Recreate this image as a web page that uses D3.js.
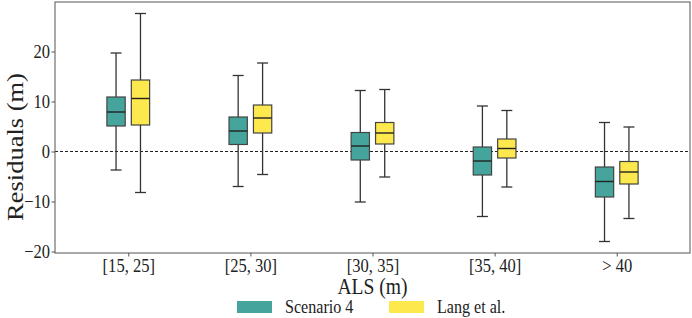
<!DOCTYPE html>
<html>
<head>
<meta charset="utf-8">
<script src="https://cdn.jsdelivr.net/npm/d3@7"></script>
<style>
  body { margin: 0; background: #fff; }
  text { font-family: "Liberation Serif", "Times New Roman", serif; fill: #222; }
</style>
</head>
<body>
<svg id="chart" width="692" height="318"></svg>
<script>
// categories along the x axis
var categories = ["[15, 25]", "[25, 30]", "[30, 35]", "[35, 40]", "> 40"];
var seriesNames = ["Scenario 4", "Lang et al."];
var seriesColors = ["#45a59c", "#fde94d"];

// box stats per category: [lower whisker, q1, median, q3, upper whisker]
var scenario4 = [
  [-3.7, 5.1, 7.9, 10.9, 19.7],
  [-7.0, 1.4, 4.1, 6.9, 15.2],
  [-10.1, -1.7, 1.1, 3.8, 12.2],
  [-13.0, -4.7, -1.9, 0.9, 9.1],
  [-18.0, -9.1, -6.0, -3.1, 5.8]
];
var langEtAl = [
  [-8.2, 5.3, 10.6, 14.3, 27.6],
  [-4.6, 3.7, 6.7, 9.3, 17.7],
  [-5.1, 1.5, 3.7, 5.8, 12.4],
  [-7.1, -1.3, 0.6, 2.5, 8.2],
  [-13.4, -6.5, -4.1, -2.0, 4.9]
];
var yTicks = [-20, -10, 0, 10, 20];

var svg = d3.select("#chart");
var plotLeft = 55, plotRight = 690, plotTop = 2, plotBottom = 253;
// the source figure's text is slightly squeezed horizontally
var squeeze = 0.87;

var x = d3.scaleLinear().domain([-0.6, categories.length - 0.4]).range([plotLeft, plotRight]);
var y = d3.scaleLinear().domain([-20.3, 29.9]).range([plotBottom, plotTop]);

// zero reference line
svg.append("line")
  .attr("x1", plotLeft).attr("x2", plotRight)
  .attr("y1", y(0)).attr("y2", y(0))
  .attr("stroke", "#222").attr("stroke-width", 1)
  .attr("stroke-dasharray", "3,2");

// draw the boxes for one series
function drawSeries(data, offset, color) {
  var boxW = x(0.15) - x(0);
  var capW = x(0.09) - x(0);
  var g = svg.append("g");
  data.forEach(function (d, i) {
    var cx = x(i + offset);
    // whiskers
    g.append("line").attr("x1", cx).attr("x2", cx).attr("y1", y(d[0])).attr("y2", y(d[1]))
      .attr("stroke", "#333").attr("stroke-width", 1.3);
    g.append("line").attr("x1", cx).attr("x2", cx).attr("y1", y(d[3])).attr("y2", y(d[4]))
      .attr("stroke", "#333").attr("stroke-width", 1.3);
    // caps
    [d[0], d[4]].forEach(function (v) {
      g.append("line").attr("x1", cx - capW / 2).attr("x2", cx + capW / 2)
        .attr("y1", y(v)).attr("y2", y(v))
        .attr("stroke", "#333").attr("stroke-width", 1.3);
    });
    // box
    g.append("rect")
      .attr("x", cx - boxW / 2).attr("width", boxW)
      .attr("y", y(d[3])).attr("height", y(d[1]) - y(d[3]))
      .attr("fill", color).attr("stroke", "#444").attr("stroke-width", 1.2);
    // median
    g.append("line").attr("x1", cx - boxW / 2).attr("x2", cx + boxW / 2)
      .attr("y1", y(d[2])).attr("y2", y(d[2]))
      .attr("stroke", "#222").attr("stroke-width", 1.4);
  });
}
drawSeries(scenario4, -0.1, seriesColors[0]);
drawSeries(langEtAl, 0.1, seriesColors[1]);

// frame
svg.append("rect")
  .attr("x", plotLeft).attr("y", plotTop)
  .attr("width", plotRight - plotLeft).attr("height", plotBottom - plotTop)
  .attr("fill", "none").attr("stroke", "#555").attr("stroke-width", 1);

// axes
var xAxis = svg.append("g").attr("transform", "translate(0," + plotBottom + ")")
  .call(d3.axisBottom(x).tickValues(d3.range(categories.length))
    .tickFormat(function (d) { return categories[d]; }).tickSize(3.5).tickPadding(2));
var yAxis = svg.append("g").attr("transform", "translate(" + plotLeft + ",0)")
  .call(d3.axisLeft(y).tickValues(yTicks)
    .tickFormat(function (d) { return d < 0 ? "\u2212" + Math.abs(d) : d; }).tickSize(3.5).tickPadding(2.2));
[xAxis, yAxis].forEach(function (a) {
  a.select(".domain").remove();
  a.selectAll(".tick line").attr("stroke", "#555");
  a.selectAll(".tick text").style("font-size", "19px")
    .style("font-family", "'Liberation Serif', serif").attr("fill", "#222")
    .attr("transform", "scale(" + squeeze + ",1)");
});

// axis titles
svg.append("text")
  .attr("transform", "translate(" + (plotLeft + plotRight) / 2 + ",293.5) scale(" + squeeze + ",1)")
  .attr("text-anchor", "middle").style("font-size", "22.5px").text("ALS (m)");
svg.append("text")
  .attr("transform", "translate(22.5,147) rotate(-90) scale(1," + squeeze + ")")
  .attr("text-anchor", "middle").style("font-size", "26.5px").text("Residuals (m)");

// legend
var legendX = [237, 389];
seriesNames.forEach(function (name, i) {
  svg.append("rect").attr("x", legendX[i]).attr("y", 301).attr("width", 35).attr("height", 12)
    .attr("fill", seriesColors[i]);
  svg.append("text")
    .attr("transform", "translate(" + (legendX[i] + 48) + ",313.3) scale(" + squeeze + ",1)")
    .style("font-size", "18.5px").text(name);
});
</script>
</body>
</html>
